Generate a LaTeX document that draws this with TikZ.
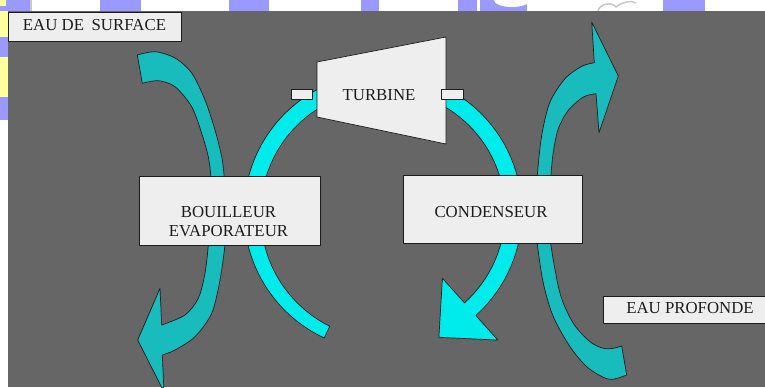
\documentclass[tikz,border=0pt]{standalone}
\usepackage{fontspec}
\setmainfont{Liberation Serif}
\definecolor{bg}{RGB}{102,102,102}
\definecolor{boxfill}{RGB}{238,238,238}
\definecolor{cyanb}{RGB}{0,236,236}
\definecolor{tealb}{RGB}{24,188,188}
\definecolor{blob}{RGB}{153,153,255}
\definecolor{yel}{RGB}{255,255,160}
\definecolor{logo}{RGB}{200,200,200}
\definecolor{ink}{RGB}{28,28,28}
\begin{document}
\begin{tikzpicture}[x=1bp,y=-1bp,
  outline/.style={draw=ink, line width=0.7bp, line join=round},
  boxstyle/.style={outline, fill=boxfill, rectangle, inner sep=0pt},
  tealarrow/.style={outline, fill=tealb},
  cyanarc/.style={outline, fill=cyanb},
  lbl/.style={font=\fontsize{16.8bp}{19bp}\selectfont, text=ink, inner sep=0pt, anchor=base}]
\useasboundingbox (0,0) rectangle (765,387);
% page and watermark strip
\fill[white] (0,0) rectangle (765,387);
\fill[blob] (0,0) rectangle (30,11);
\fill[yel] (0,0) rectangle (6,6);
\fill[yel] (0,11) rectangle (8,37);
\fill[blob] (0,37) rectangle (8,57);
\fill[yel] (0,57) rectangle (8,97);
\fill[blob] (0,97) rectangle (8,120);
\fill[logo] (30,0) rectangle (31.5,11);
\fill[blob] (100,0) rectangle (141,11);
\fill[blob] (229,0) rectangle (269,11);
\fill[blob] (361,0) rectangle (379,11);
\fill[blob] (458,0) rectangle (477,11);
\fill[blob] (480,0) rectangle (527,11);
\fill[white] (512,0) ellipse [x radius=18, y radius=7];
\draw[logo, line width=1.5bp] (598,11) .. controls (600,3) and (612,2) .. (616,7) .. controls (622,2) and (632,0) .. (636,3);
\fill[blob] (663,0) rectangle (705,11);
% grey field
\fill[bg] (8,11) rectangle (765,387);

% cyan working-fluid loop, left half (turbine -> boiler -> end)
\path[cyanarc] plot[domain=115:242, samples=70] ({383+139*cos(\x)},{212+139*sin(\x)})
  -- plot[domain=242:115, samples=70] ({383+(122+max(0,180-\x)/16)*cos(\x)},{212+(122+max(0,180-\x)/16)*sin(\x)}) -- cycle;
% cyan loop, right half (turbine -> condenser -> arrow head)
\path[cyanarc] plot[domain=-62:48.1, samples=70] ({383+139*cos(\x)},{212+139*sin(\x)})
  -- (497.9,340.1) -- (438.9,337.3) -- (442.4,278.3)
  -- plot[domain=48.1:-62, samples=70] ({383+122*cos(\x)},{212+122*sin(\x)}) -- cycle;

% teal sea-water arrows
\path[tealarrow] plot[smooth] coordinates {(137.3,55) (155,51.7) (175,58) (191.7,73) (205,100) (215,130) (221.7,156.7) (224,175) (224.5,190)}
  -- plot[smooth] coordinates {(210.5,190) (210.7,175) (208.3,156.7) (201.7,133.3) (191.7,106.7) (175,86.7) (158.3,80.7) (142.3,83.3)} -- cycle;
\path[tealarrow] plot[smooth] coordinates {(208.5,232) (208.3,245) (205,273.3) (198.3,298.3) (185,315) (161.7,325)}
  -- (160,288.3) -- (137.7,340) -- (164,392) -- (162.3,355)
  -- plot[smooth] coordinates {(162.3,355) (175,350) (195,336.7) (211.7,313.3) (220,280) (225,245) (225.5,232)} -- cycle;
\path[tealarrow] plot[smooth] coordinates {(537.3,190) (537.3,175.3) (541.7,135.3) (550,102) (565,78.7) (581.7,66.3) (594.3,62.7)}
  -- (591.7,22) -- (618.3,76) -- (599,132.7) -- (596,93.7)
  -- plot[smooth] coordinates {(596,93.7) (583.3,97) (568.3,110.3) (558.3,128.7) (553.3,152) (551,175.3) (551,190)} -- cycle;
\path[tealarrow] plot[smooth] coordinates {(537.3,232) (537.3,244) (543.3,283.3) (553.3,316.7) (570,346.7) (586.7,366.7) (603.3,377.3) (613.3,379.3) (626.7,375)}
  -- plot[smooth] coordinates {(621.7,346) (613.3,348.3) (603.3,348.3) (590,341.7) (573.3,323.3) (560,293.3) (550.7,244) (550.7,232)} -- cycle;

% boxes
\node[boxstyle, minimum width=173bp, minimum height=29bp] (surfbox) at (94.5,26.5) {};
\node[boxstyle, minimum width=181bp, minimum height=69bp] (boilbox) at (229.5,210.5) {};
\node[boxstyle, minimum width=179bp, minimum height=68bp] (condbox) at (492.5,209) {};
\node[boxstyle, minimum width=172bp, minimum height=27.5bp] (profbox) at (689,309.75) {};
% turbine
\draw[outline, fill=boxfill] (317,62) -- (446,37) -- (446,144) -- (317,117) -- cycle;
\node[boxstyle, minimum width=21bp, minimum height=10bp] (nozl) at (301.5,94) {};
\node[boxstyle, minimum width=22bp, minimum height=10bp] (nozr) at (452,94) {};

% labels
\node[lbl] (surf) at (94.5,30.5) {EAU DE\hspace{0.45em}SURFACE};
\node[lbl] (turb) at (379,100.7) {TURBINE};
\node[lbl] (boil1) at (228.5,217.5) {BOUILLEUR};
\node[lbl] (boil2) at (228.5,236) {EVAPORATEUR};
\node[lbl] (cond) at (491,217.5) {CONDENSEUR};
\node[lbl] (prof) at (690,313.5) {EAU PROFONDE};
\end{tikzpicture}
\end{document}
